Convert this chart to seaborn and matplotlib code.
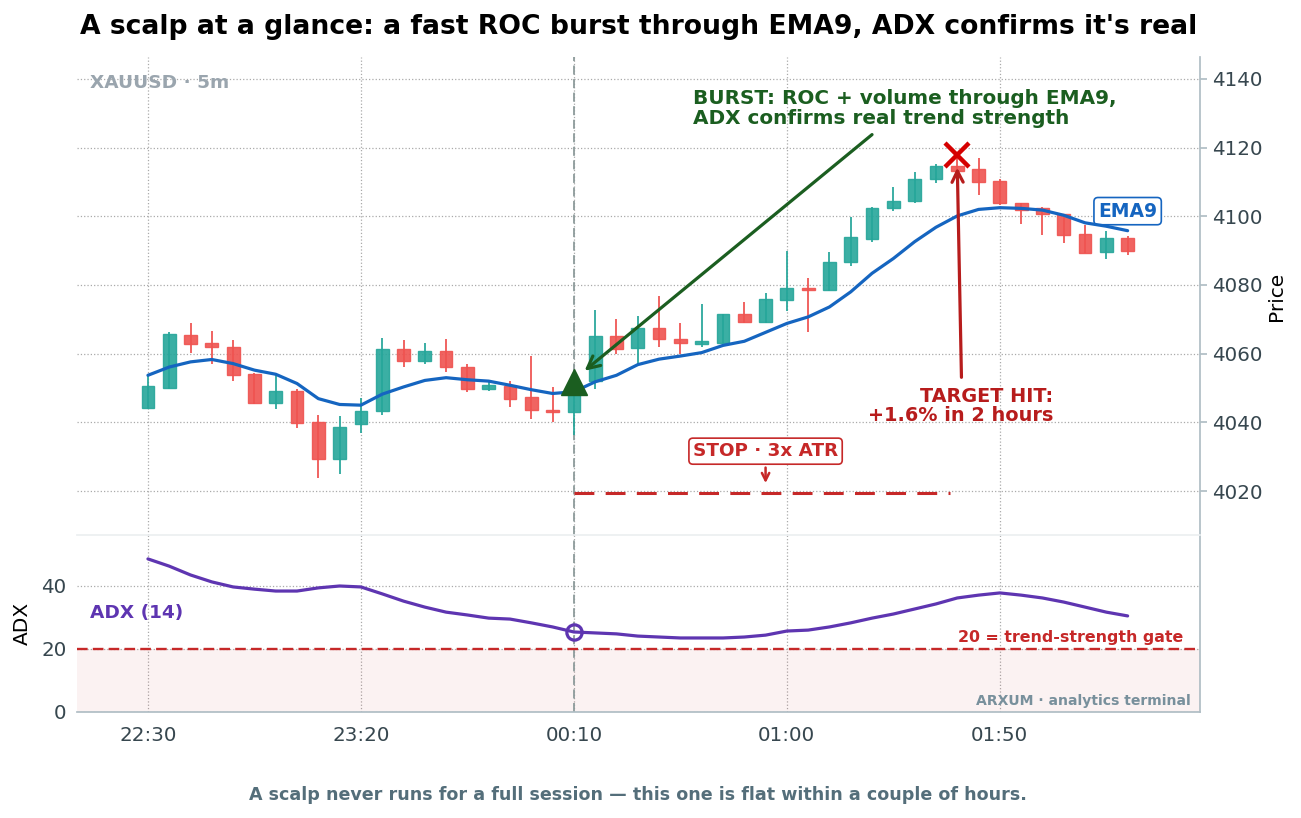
import numpy as np
import pandas as pd
import matplotlib
matplotlib.use("Agg")
import matplotlib.pyplot as plt
import matplotlib.transforms as mtransforms
import seaborn as sns

# Velas de 5 minutos XAUUSD (22:30 -> 02:20)
opens = [4044.3, 4050.1, 4065.3, 4063.0, 4062.0, 4054.2, 4045.7, 4049.1, 4040.1, 4029.4,
         4039.4, 4043.3, 4061.4, 4057.8, 4060.8, 4056.2, 4049.8, 4050.6, 4047.4, 4043.7,
         4043.0, 4052.0, 4065.2, 4061.5, 4067.5, 4064.2, 4062.9, 4063.2, 4071.4, 4069.1,
         4075.6, 4079.0, 4078.5, 4086.6, 4093.4, 4102.3, 4104.4, 4110.8, 4114.6, 4113.7,
         4110.4, 4103.8, 4102.3, 4100.8, 4094.7, 4089.5, 4093.8]
highs = [4053.5, 4066.2, 4068.8, 4066.5, 4064.1, 4054.5, 4053.7, 4049.8, 4042.2, 4041.8,
         4047.1, 4064.7, 4063.9, 4063.1, 4064.2, 4057.1, 4051.6, 4052.0, 4059.3, 4050.3,
         4052.5, 4072.7, 4070.2, 4070.9, 4076.7, 4068.8, 4074.6, 4071.6, 4075.1, 4077.6,
         4089.9, 4081.9, 4089.5, 4099.7, 4102.7, 4108.4, 4112.8, 4115.2, 4117.8, 4116.9,
         4111.0, 4103.8, 4102.8, 4100.8, 4097.4, 4095.7, 4094.2]
lows = [4044.0, 4049.8, 4060.2, 4057.1, 4052.0, 4045.2, 4044.0, 4038.3, 4023.8, 4025.0,
        4036.9, 4042.0, 4056.1, 4057.1, 4054.7, 4048.9, 4049.1, 4044.5, 4040.9, 4040.0,
        4036.2, 4049.8, 4060.0, 4057.1, 4061.8, 4060.0, 4062.0, 4063.0, 4068.8, 4069.0,
        4072.5, 4066.2, 4078.3, 4085.6, 4092.4, 4101.6, 4104.0, 4109.6, 4112.5, 4106.2,
        4103.3, 4097.7, 4094.5, 4092.1, 4089.2, 4087.7, 4088.7]
closes = [4050.6, 4065.6, 4062.7, 4061.9, 4053.7, 4045.7, 4049.1, 4039.9, 4029.4, 4038.6,
          4043.3, 4061.4, 4057.8, 4060.8, 4056.0, 4049.8, 4051.0, 4046.9, 4043.5, 4043.0,
          4051.0, 4065.2, 4061.3, 4067.5, 4064.2, 4063.2, 4063.6, 4071.4, 4069.2, 4075.8,
          4079.0, 4078.5, 4086.7, 4094.0, 4102.5, 4104.5, 4110.8, 4114.7, 4113.3, 4110.1,
          4103.8, 4101.8, 4100.6, 4094.5, 4089.2, 4093.8, 4089.9]
ema9 = [4053.7, 4056.1, 4057.6, 4058.3, 4057.1, 4055.2, 4054.0, 4051.3, 4046.9, 4045.2,
        4045.0, 4048.2, 4050.3, 4052.2, 4053.0, 4052.4, 4052.0, 4050.8, 4049.5, 4048.4,
        4048.9, 4051.8, 4053.7, 4056.8, 4058.4, 4059.3, 4060.3, 4062.4, 4063.6, 4066.2,
        4068.8, 4070.7, 4073.6, 4078.0, 4083.4, 4087.7, 4092.6, 4096.8, 4100.1, 4102.0,
        4102.5, 4102.3, 4101.8, 4100.3, 4098.1, 4097.1, 4095.8]
adx14 = [48.6, 46.3, 43.5, 41.3, 39.7, 39.0, 38.4, 38.4, 39.4, 40.0,
         39.7, 37.5, 35.2, 33.3, 31.7, 30.8, 29.8, 29.5, 28.3, 27.0,
         25.4, 25.1, 24.8, 24.1, 23.8, 23.5, 23.5, 23.5, 23.8, 24.4,
         25.7, 26.0, 27.0, 28.3, 29.8, 31.1, 32.7, 34.3, 36.2, 37.1,
         37.8, 37.1, 36.2, 34.9, 33.3, 31.7, 30.5]

tick_pos = [0, 10, 20, 30, 40]
tick_labels = ["22:30", "23:20", "00:10", "01:00", "01:50"]

entry_idx = 20
target_idx = 38
stop_price = 4019.3
adx_gate = 20

df = pd.DataFrame({"idx": np.arange(len(closes)), "open": opens, "high": highs,
                   "low": lows, "close": closes, "ema": ema9, "adx": adx14})

UP, DOWN = "#26a69a", "#ef5350"
EMA_C, ADX_C = "#1565c0", "#5e35b1"
GREEN, RED = "#1b5e20", "#b71c1c"
SPINE = "#b0bec5"
VLINE = "#8d9b9b"

sns.set_theme(style="white")
plt.rcParams["font.family"] = ["DejaVu Sans"]

fig = plt.figure(figsize=(13.01, 8.18), dpi=100)
ax = fig.add_axes([0.0592, 0.346, 0.8632, 0.5844])
ax2 = fig.add_axes([0.0592, 0.1296, 0.8632, 0.2164], sharex=ax)

# --- velas ---
colors = np.where(df["close"] >= df["open"], UP, DOWN)
ax.vlines(df["idx"], df["low"], df["high"], color=colors, lw=1.4, alpha=0.9, zorder=2)
body_h = np.maximum((df["close"] - df["open"]).abs(), 0.7)
body_b = np.minimum(df["open"], df["close"])
ax.bar(df["idx"], body_h, bottom=body_b, width=0.6, color=colors, edgecolor=colors,
       linewidth=1, alpha=0.9, zorder=3)

sns.lineplot(data=df, x="idx", y="ema", ax=ax, color=EMA_C, lw=2.3, zorder=4)

ax.set_xlim(-3.33, 49.4)
ax.set_ylim(4007.2, 4146.4)
ax.set_yticks([4020, 4040, 4060, 4080, 4100, 4120, 4140])
ax.yaxis.tick_right()
ax.yaxis.set_label_position("right")
ax.set_ylabel("Price", fontsize=14.5, color="black", labelpad=3)
ax.set_xlabel("")
ax.tick_params(axis="x", which="both", bottom=False, labelbottom=False)
ax.tick_params(axis="y", right=True, length=5, color=SPINE, labelsize=14.3,
               labelcolor="#37474f")
ax.grid(True, ls=":", color="#aaaaaa", lw=0.9)
for s in ["top", "left", "bottom"]:
    ax.spines[s].set_visible(False)
ax.spines["right"].set_color(SPINE)

ax.axvline(entry_idx, color=VLINE, ls=(0, (5, 2.5)), lw=1.3, zorder=1)

# entrada / objetivo
ax.plot(entry_idx, closes[entry_idx] + 0.8, marker="^", ms=19, color=GREEN, zorder=6)
ax.plot(target_idx, highs[target_idx], marker="x", ms=17, mew=3.2, color="#d50000", zorder=6)

ax.annotate("", xy=(entry_idx + 0.4, closes[entry_idx] + 3.5), xytext=(34.1, 4124.3),
            arrowprops=dict(arrowstyle="->", color=GREEN, lw=2.3, mutation_scale=22),
            zorder=5)
ax.text(25.6, 4137.0, "BURST: ROC + volume through EMA9,\nADX confirms real trend strength",
        color=GREEN, fontsize=14.4, fontweight="bold", ha="left", va="top", linespacing=1.02)

ax.annotate("", xy=(target_idx, highs[target_idx] - 2.8), xytext=(38.2, 4052.3),
            arrowprops=dict(arrowstyle="->", color=RED, lw=2.3, mutation_scale=20),
            zorder=5)
ax.text(42.5, 4050.3, "TARGET HIT:\n+1.6% in 2 hours", color=RED, fontsize=13.9,
        fontweight="bold", ha="right", va="top", multialignment="right", linespacing=1.02)

# stop
ax.hlines(stop_price, entry_idx, target_idx - 0.35, color="#c62828", ls=(0, (6.5, 3.7)),
          lw=2.2, zorder=4)
ax.annotate("STOP · 3x ATR", xy=(29.0, stop_price + 2.2), xytext=(29.0, 4031.6),
            color="#c62828", fontsize=13.2, fontweight="bold", ha="center", va="center",
            bbox=dict(boxstyle="round,pad=0.22", fc="white", ec="#c62828", lw=1.2),
            arrowprops=dict(arrowstyle="->", color="#c62828", lw=1.8))

ax.text(46.0, 4101.5, "EMA9", color=EMA_C, fontsize=13.5, fontweight="bold",
        ha="center", va="center",
        bbox=dict(boxstyle="round,pad=0.22", fc="white", ec=EMA_C, lw=1.2))

ax.text(0.0116, 0.946, "XAUUSD · 5m", transform=ax.transAxes, color="#9aa5ae",
        fontsize=13.3, fontweight="bold", ha="left", va="center")

# --- panel ADX ---
ax2.axhspan(0, adx_gate, color="#c62828", alpha=0.06, lw=0)
ax2.axhline(adx_gate, color="#c62828", ls=(0, (4.5, 2.2)), lw=1.7)
sns.lineplot(data=df, x="idx", y="adx", ax=ax2, color=ADX_C, lw=2.3, zorder=4)
ax2.plot(entry_idx, adx14[entry_idx], marker="o", ms=11, mfc="none", mec=ADX_C,
         mew=2.3, zorder=5)
ax2.axvline(entry_idx, color=VLINE, ls=(0, (5, 2.5)), lw=1.3, zorder=1)

ax2.set_ylim(0, 56.2)
ax2.set_yticks([0, 20, 40])
ax2.set_xticks(tick_pos)
ax2.set_xticklabels(tick_labels)
ax2.set_xlabel("")
ax2.set_ylabel("ADX", fontsize=14.5, color="black", labelpad=7)
ax2.tick_params(axis="both", labelsize=14.3, labelcolor="#37474f", length=4, color=SPINE)
ax2.tick_params(axis="x", pad=6)
ax2.grid(True, ls=":", color="#aaaaaa", lw=0.9)
ax2.spines["left"].set_visible(False)
ax2.spines["top"].set_color("#eceff1")
ax2.spines["right"].set_color(SPINE)
ax2.spines["bottom"].set_color(SPINE)

blend = mtransforms.blended_transform_factory(ax2.transAxes, ax2.transData)
ax2.text(0.0116, 31.4, "ADX (14)", transform=blend, color=ADX_C, fontsize=13.3,
         fontweight="bold", ha="left", va="center")
ax2.text(0.985, adx_gate + 1.3, "20 = trend-strength gate", transform=blend,
         color="#c62828", fontsize=11.4, fontweight="bold", ha="right", va="bottom")
ax2.text(0.992, 0.022, "ARXUM · analytics terminal", transform=ax2.transAxes,
         color="#78909c", fontsize=10.1, fontweight="bold", ha="right", va="bottom")

fig.text(0.4907, 0.967, "A scalp at a glance: a fast ROC burst through EMA9, ADX confirms it's real",
         fontsize=19.2, fontweight="bold", color="black", ha="center", va="center")
fig.text(0.4907, 0.028,
         "A scalp never runs for a full session — this one is flat within a couple of hours.",
         fontsize=12.6, fontweight="bold", color="#546e7a", ha="center", va="center")

fig.savefig("out.png", dpi=100)
